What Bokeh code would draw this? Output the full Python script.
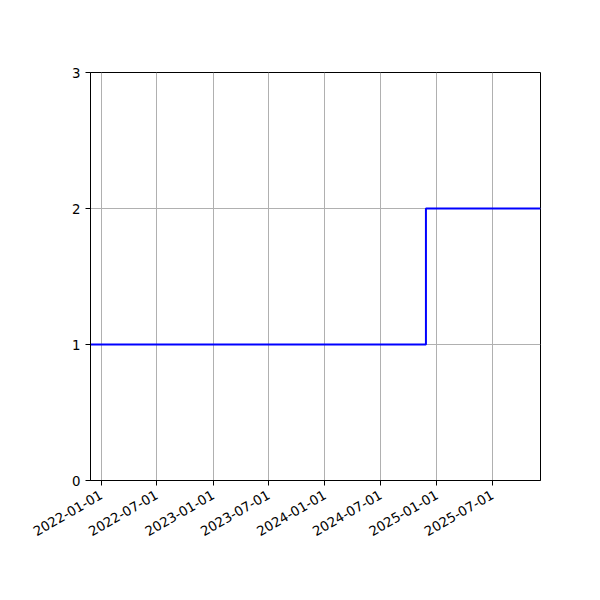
import math
import pandas as pd
from bokeh.plotting import figure
from bokeh.models import FixedTicker, DatetimeTickFormatter, Range1d
from bokeh.embed import file_html
from bokeh.resources import INLINE

# Data
step_dates = ["2021-11-27", "2024-11-26", "2025-12-05"]
step_values = [1, 2, 2]
x_tick_labels = ["2022-01-01", "2022-07-01", "2023-01-01", "2023-07-01",
                 "2024-01-01", "2024-07-01", "2025-01-01", "2025-07-01"]
y_ticks = [0, 1, 2, 3]

def ms(s):
    return pd.Timestamp(s).value / 1e6

xs = pd.to_datetime(step_dates)

p = figure(width=592, height=592, output_backend="svg", toolbar_location=None,
           x_axis_type="datetime",
           x_range=Range1d(ms(step_dates[0]), ms(step_dates[-1])),
           y_range=Range1d(0, 3),
           min_border_left=90, min_border_right=52,
           min_border_top=72, min_border_bottom=112)
p.background_fill_color = "white"
p.border_fill_color = "white"
p.outline_line_color = "black"
p.outline_line_width = 1

p.step(xs, step_values, mode="after", line_color="blue", line_width=2)

font = "DejaVu Sans"
for ax in (p.xaxis[0], p.yaxis[0]):
    ax.major_label_text_font = font
    ax.major_label_text_font_size = "13.33px"
    ax.major_label_text_color = "black"
    ax.axis_line_color = "black"
    ax.major_tick_line_color = "black"
    ax.major_tick_out = 5
    ax.major_tick_in = 0
    ax.minor_tick_line_color = None

p.xaxis[0].ticker = FixedTicker(ticks=[ms(t) for t in x_tick_labels])
p.xaxis[0].formatter = DatetimeTickFormatter(
    days="%Y-%m-%d", months="%Y-%m-%d", years="%Y-%m-%d")
p.xaxis[0].major_label_orientation = math.pi / 6
p.xaxis[0].major_label_standoff = 8
p.yaxis[0].major_label_standoff = 5
p.yaxis[0].ticker = FixedTicker(ticks=y_ticks)

p.xgrid.grid_line_color = "#b0b0b0"
p.ygrid.grid_line_color = "#b0b0b0"
p.xgrid.grid_line_width = 1
p.ygrid.grid_line_width = 1
p.xgrid.ticker = p.xaxis[0].ticker
p.ygrid.ticker = p.yaxis[0].ticker

open("out.html", "w").write(file_html(p, INLINE))
